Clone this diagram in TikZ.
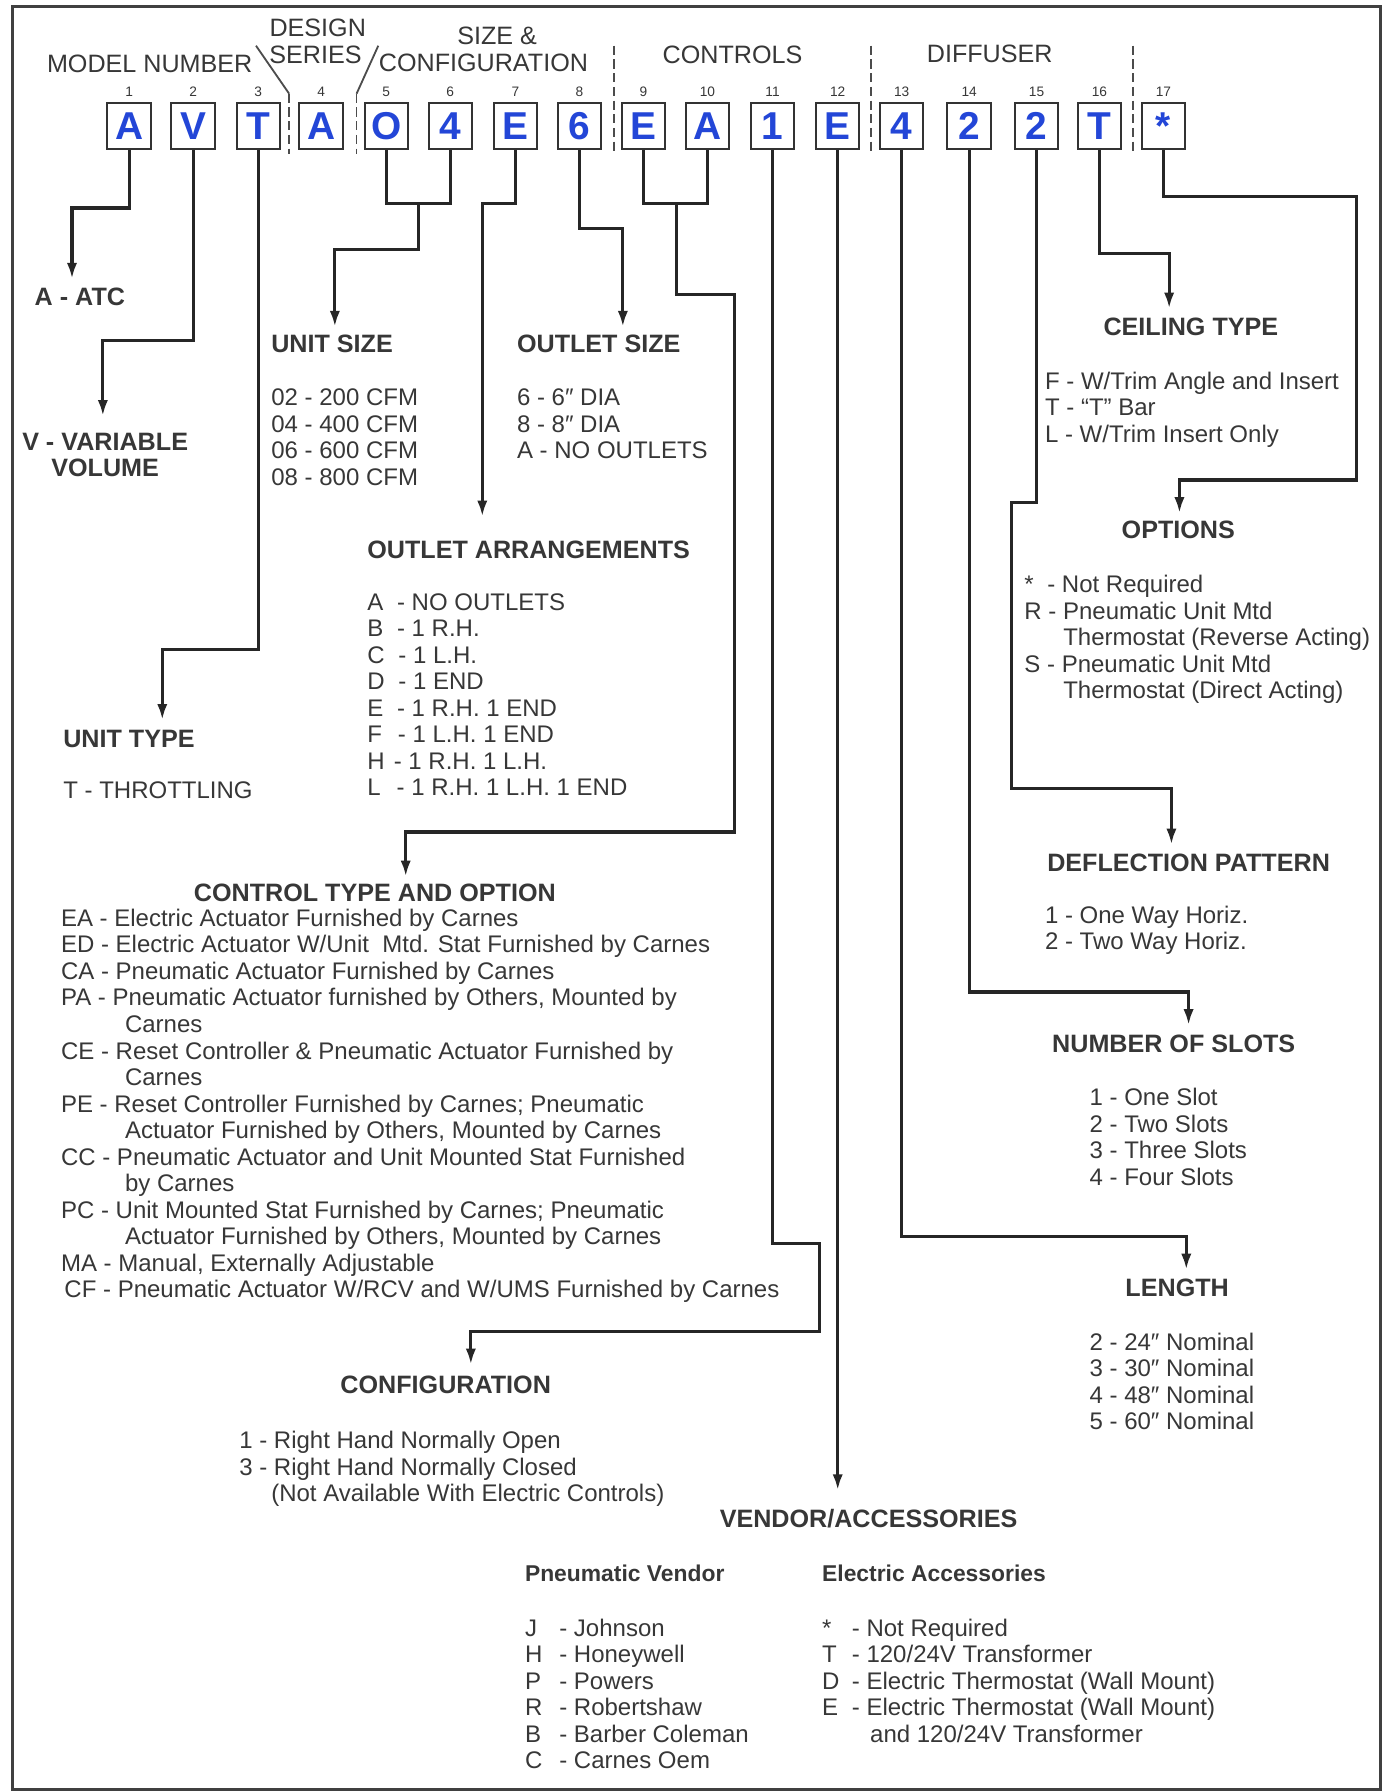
\documentclass[tikz,border=0pt]{standalone}
\usepackage{fontspec}
\setmainfont{Liberation Sans}
\usetikzlibrary{arrows.meta}
\definecolor{ink}{RGB}{55,55,55}
\definecolor{codeblue}{RGB}{35,70,215}
\begin{document}
\begin{tikzpicture}[x=0.5pt,y=-0.5pt,
  conn/.style={line width=1.4pt, draw=black!85, line join=miter},
  arr/.style={conn, -{Latex[length=7pt,width=4.5pt]}},
  codebox/.style={draw=black!80, line width=0.9pt, minimum width=19pt, minimum height=20pt, inner sep=0pt, text=codeblue, font=\fontsize{17}{17}\selectfont\bfseries},
  posnum/.style={font=\fontsize{6}{6}\selectfont, text=ink, inner sep=0pt},
  head/.style={font=\fontsize{11}{12}\selectfont, text=ink, inner sep=0pt},
  title/.style={font=\fontsize{11}{11.5}\selectfont\bfseries, text=ink, inner sep=0pt},
  subtitle/.style={font=\fontsize{10}{11}\selectfont\bfseries, text=ink, inner sep=0pt, anchor=west},
  list/.style={font=\fontsize{10.5}{11.6}\selectfont, text=ink, inner sep=0pt, align=left, anchor=north west},
  divider/.style={line width=0.8pt, dash pattern=on 4pt off 2pt, draw=black!70},
  slant/.style={line width=0.8pt, draw=black!70},
  frame/.style={line width=1.2pt, draw=black!75},
]
\useasboundingbox (0,0) rectangle (1216,1568);
\draw[frame] (11,6) rectangle (1208,1566);

% header labels
\node[head] (hmodel) at (131,56) {MODEL NUMBER};
\node[head] (hdesign) at (278,24) {DESIGN};
\node[head] (hseries) at (276,48) {SERIES};
\node[head] (hsize) at (435,31) {SIZE \&};
\node[head] (hconf) at (423,55) {CONFIGURATION};
\node[head] (hctrl) at (641,48) {CONTROLS};
\node[head] (hdiff) at (866,47) {DIFFUSER};

% dividers
\coordinate (d1a) at (224,40); \coordinate (d1b) at (253,82); \coordinate (d1c) at (253,135);
\coordinate (d2a) at (331,40); \coordinate (d2b) at (312,82); \coordinate (d2c) at (312,135);
\draw[slant] (d1a) -- (d1b); \draw[divider] (d1b) -- (d1c);
\draw[slant] (d2a) -- (d2b); \draw[divider] (d2b) -- (d2c);
\coordinate (d3a) at (537,40); \coordinate (d3b) at (537,135);
\coordinate (d4a) at (762,40); \coordinate (d4b) at (762,135);
\coordinate (d5a) at (991,40); \coordinate (d5b) at (991,135);
\draw[divider] (d3a) -- (d3b);
\draw[divider] (d4a) -- (d4b);
\draw[divider] (d5a) -- (d5b);

% code boxes
\foreach \i/\x/\c in {1/113/A,2/169/V,3/226/T,4/281/A,5/338/O,6/394/4,7/451/E,8/507/6,9/563/E,10/619/A,11/676/1,12/733/E,13/789/4,14/848/2,15/907/2,16/962/T,17/1018/*}{
  \node[codebox] (b\i) at (\x,110) {\c};
  \node[posnum] (n\i) at (\x,80) {\i};
}

% connectors
\coordinate (tA) at (63,244);
\draw[arr] (b1.south) -- (113,182) -- (63,182) -- (tA);
\node[title, anchor=west] (tatc) at (30,260) {A - ATC};

\coordinate (tV) at (90,364);
\draw[arr] (b2.south) -- (169,298) -- (90,298) -- (tV);
\node[title, align=center] (tvv) at (92,398) {V - VARIABLE\\VOLUME};

\coordinate (tT) at (142,630);
\draw[arr] (b3.south) -- (226,568) -- (142,568) -- (tT);
\node[title, anchor=west] (tut) at (55,647) {UNIT TYPE};
\node[list] (lut) at (55,684) {T - THROTTLING};

\coordinate (j56) at (366,178);
\coordinate (tUS) at (293,286);
\draw[conn] (b5.south) -- (338,178) -- (394,178) -- (b6.south);
\draw[arr] (j56) -- (366,218) -- (293,218) -- (tUS);
\node[title, anchor=west] (tus) at (237,301) {UNIT SIZE};
\node[list] (lus) at (237,340) {02 - 200 CFM\\04 - 400 CFM\\06 - 600 CFM\\08 - 800 CFM};

\coordinate (tOA) at (422,452);
\draw[arr] (b7.south) -- (451,178) -- (422,178) -- (tOA);
\node[title, anchor=west] (toa) at (321,481) {OUTLET ARRANGEMENTS};
\node[list] (loa) at (321,519) {A\hspace{6pt}- NO OUTLETS\\B\hspace{6pt}- 1 R.H.\\C\hspace{6pt}- 1 L.H.\\D\hspace{6pt}- 1 END\\E\hspace{6pt}- 1 R.H. 1 END\\F\hspace{7pt}- 1 L.H. 1 END\\H\hspace{4pt}- 1 R.H. 1 L.H.\\L\hspace{7pt}- 1 R.H. 1 L.H. 1 END};

\coordinate (tOS) at (545,286);
\draw[arr] (b8.south) -- (507,200) -- (545,200) -- (tOS);
\node[title, anchor=west] (tos) at (452,301) {OUTLET SIZE};
\node[list] (los) at (452,340) {6 - 6″ DIA\\8 - 8″ DIA\\A - NO OUTLETS};

\coordinate (j910) at (592,178);
\coordinate (tCT) at (355,767);
\draw[conn] (b9.south) -- (563,178) -- (619,178) -- (b10.south);
\draw[arr] (j910) -- (592,258) -- (643,258) -- (643,728) -- (355,728) -- (tCT);
\node[title] (tct) at (328,781) {CONTROL TYPE AND OPTION};
\node[list] (lct) at (53,795) {EA - Electric Actuator Furnished by Carnes\\
ED - Electric Actuator W/Unit\ \ Mtd. Stat Furnished by Carnes\\
CA - Pneumatic Actuator Furnished by Carnes\\
PA - Pneumatic Actuator furnished by Others, Mounted by\\
\hspace*{28pt}Carnes\\
CE - Reset Controller \& Pneumatic Actuator Furnished by\\
\hspace*{28pt}Carnes\\
PE - Reset Controller Furnished by Carnes; Pneumatic\\
\hspace*{28pt}Actuator Furnished by Others, Mounted by Carnes\\
CC - Pneumatic Actuator and Unit Mounted Stat Furnished\\
\hspace*{28pt}by Carnes\\
PC - Unit Mounted Stat Furnished by Carnes; Pneumatic\\
\hspace*{28pt}Actuator Furnished by Others, Mounted by Carnes\\
MA - Manual, Externally Adjustable\\
\hspace*{1.5pt}CF - Pneumatic Actuator W/RCV and W/UMS Furnished by Carnes};

\coordinate (tCF) at (412,1194);
\draw[arr] (b11.south) -- (676,1088) -- (717,1088) -- (717,1165) -- (412,1165) -- (tCF);
\node[title] (tcf) at (390,1212) {CONFIGURATION};
\node[list] (lcf) at (209,1252) {1 - Right Hand Normally Open\\3 - Right Hand Normally Closed\\\hspace*{14pt}(Not Available With Electric Controls)};

\coordinate (tVA) at (733,1304);
\draw[arr] (b12.south) -- (tVA);
\node[title] (tva) at (760,1329) {VENDOR/ACCESSORIES};
\node[subtitle] (tpv) at (459,1377) {Pneumatic Vendor};
\node[subtitle] (tea) at (719,1377) {Electric Accessories};
\node[list] (lpv) at (459,1416) {\makebox[15pt][l]{J}- Johnson\\\makebox[15pt][l]{H}- Honeywell\\\makebox[15pt][l]{P}- Powers\\\makebox[15pt][l]{R}- Robertshaw\\\makebox[15pt][l]{B}- Barber Coleman\\\makebox[15pt][l]{C}- Carnes Oem};
\node[list] (lea) at (719,1416) {\makebox[13pt][l]{*}- Not Required\\\makebox[13pt][l]{T}- 120/24V Transformer\\\makebox[13pt][l]{D}- Electric Thermostat (Wall Mount)\\\makebox[13pt][l]{E}- Electric Thermostat (Wall Mount)\\\hspace*{21pt}and 120/24V Transformer};

\coordinate (tLE) at (1038,1111);
\draw[arr] (b13.south) -- (789,1082) -- (1038,1082) -- (tLE);
\node[title] (tle) at (1030,1127) {LENGTH};
\node[list] (lle) at (953,1166) {2 - 24″ Nominal\\3 - 30″ Nominal\\4 - 48″ Nominal\\5 - 60″ Nominal};

\coordinate (tNS) at (1040,897);
\draw[arr] (b14.south) -- (848,868) -- (1040,868) -- (tNS);
\node[title] (tns) at (1027,913) {NUMBER OF SLOTS};
\node[list] (lns) at (953,952) {1 - One Slot\\2 - Two Slots\\3 - Three Slots\\4 - Four Slots};

\coordinate (tDP) at (1025,739);
\draw[arr] (b15.south) -- (907,440) -- (885,440) -- (885,690) -- (1025,690) -- (tDP);
\node[title] (tdp) at (1040,755) {DEFLECTION PATTERN};
\node[list] (ldp) at (914,792) {1 - One Way Horiz.\\2 - Two Way Horiz.};

\coordinate (tCE) at (1023,270);
\draw[arr] (b16.south) -- (962,222) -- (1023,222) -- (tCE);
\node[title] (tce) at (1042,286) {CEILING TYPE};
\node[list] (lce) at (914,325) {F - W/Trim Angle and Insert\\T - “T” Bar\\L - W/Trim Insert Only};

\coordinate (tOP) at (1032,449);
\draw[arr] (b17.south) -- (1018,172) -- (1187,172) -- (1187,420) -- (1032,420) -- (tOP);
\node[title] (top) at (1031,464) {OPTIONS};
\node[list] (lop) at (896,503) {\makebox[10pt][l]{*}- Not Required\\R - Pneumatic Unit Mtd\\\hspace*{17pt}Thermostat (Reverse Acting)\\S - Pneumatic Unit Mtd\\\hspace*{17pt}Thermostat (Direct Acting)};
\end{tikzpicture}
\end{document}
